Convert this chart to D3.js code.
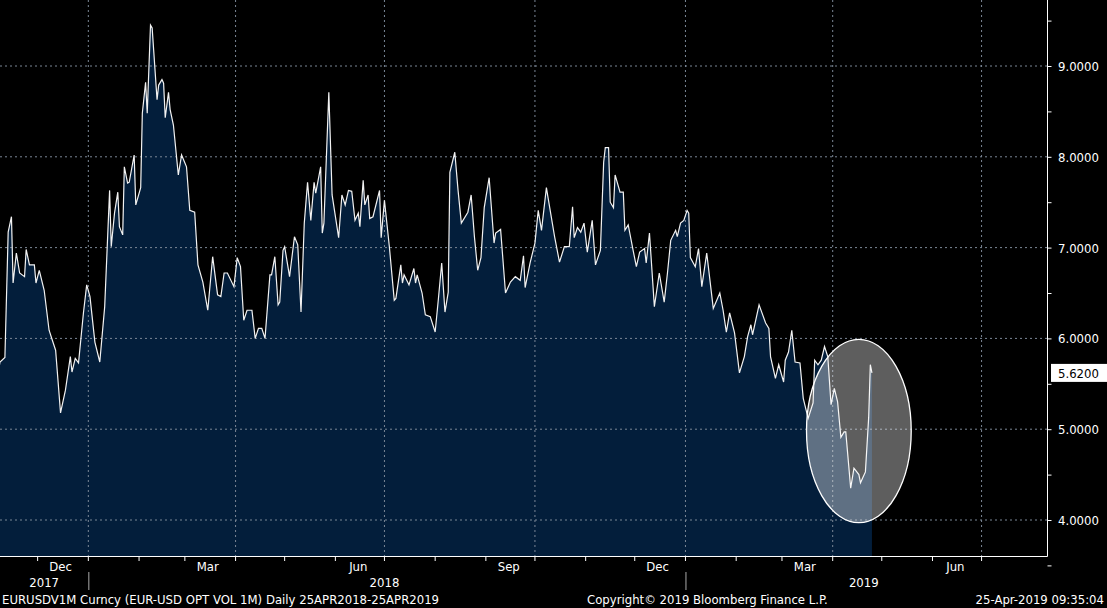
<!DOCTYPE html>
<html>
<head>
<meta charset="utf-8">
<script src="https://cdn.jsdelivr.net/npm/d3@7"></script>
<style>
body { margin:0; background:#000; }
svg text { font-family: "Liberation Sans Narrow", "DejaVu Sans Condensed", "Roboto", sans-serif; fill:#fff; }
</style>
</head>
<body>
<svg id="chart" width="1107" height="608"></svg>
<script>
let w = 1107, h = 608;

// day offsets from 6 Nov 2017
let dayOffsets = [0,2,5,7,9,10,12,14,17,18,20,23,24,26,29,32,34,36,39,42,45,46,48,50,53,55,57,60,63,66,69,70,72,74,75,77,78,80,81,84,85,88,89,91,92,94,95,98,99,101,102,103,105,106,108,111,113,116,118,121,123,126,129,132,135,137,139,141,145,147,149,151,153,156,158,160,162,164,167,168,170,172,173,175,176,179,182,184,186,188,190,192,194,195,198,199,200,203,205,209,211,213,215,217,219,221,222,224,225,227,228,230,234,235,237,240,243,244,247,248,249,252,255,256,
	257,260,262,265,268,270,272,274,276,277,280,282,284,288,290,292,294,296,298,301,304,305,308,311,314,317,320,322,323,326,329,331,333,336,337,341,344,347,350,352,353,355,357,359,361,364,366,369,371,372,374,375,377,378,381,383,384,386,389,391,393,396,397,399,402,405,408,410,412,415,416,418,420,422,423,424,427,429,431,434,438,442,444,446,448,451,454,457,459,461,462,466,470,472,473,476,478,481,482,484,486,488,491,493,496,499,500,502,504,506,508,510,512,514,516,518,519,522,524,527,528,531,533,534,535];
let vols = [5.54,5.74,5.79,7.17,7.34,6.61,6.94,6.72,6.68,6.98,6.81,6.81,6.61,6.75,6.53,6.09,5.98,5.87,5.18,5.43,5.80,5.63,5.78,5.73,6.28,6.59,6.46,5.96,5.74,6.35,7.63,7.01,7.38,7.61,7.23,7.14,7.89,7.71,7.72,8.02,7.47,7.66,8.48,8.82,8.48,9.45,9.42,8.63,8.79,8.85,8.81,8.43,8.71,8.52,8.35,7.80,8.02,7.89,7.41,7.39,6.81,6.62,6.31,6.90,6.48,6.46,6.72,6.72,6.57,6.89,6.79,6.20,6.31,6.31,6.00,6.11,6.11,6.00,6.70,6.70,6.90,6.37,6.40,6.97,7.01,6.68,7.12,7.03,6.29,7.27,7.72,7.30,7.72,7.60,7.89,7.16,7.27,8.71,7.58,7.11,7.58,7.47,7.63,7.62,7.30,7.38,7.23,7.74,7.47,7.58,7.32,7.34,7.63,7.11,7.52,7.01,6.42,6.44,6.81,6.61,6.70,6.59,6.77,6.61,
	6.70,6.50,6.26,6.24,6.07,6.44,6.83,6.29,6.51,7.83,8.05,7.63,7.27,7.39,7.58,7.12,6.75,6.89,7.44,7.77,7.05,7.16,7.20,6.50,6.62,6.68,6.64,6.91,6.56,6.83,7.05,7.41,7.19,7.66,7.55,7.12,6.84,7.01,7.01,7.45,7.11,7.22,7.17,7.27,6.95,7.30,6.81,6.97,7.94,8.10,8.10,7.50,7.44,7.80,7.61,7.61,7.19,7.25,6.97,6.79,6.95,6.99,6.83,7.16,6.35,6.72,6.40,6.72,7.08,7.19,7.12,7.27,7.30,7.41,7.38,6.89,6.79,6.99,6.57,6.94,6.33,6.50,6.31,6.07,6.28,6.06,5.62,5.80,6.02,6.15,6.04,6.37,6.17,6.11,5.80,5.56,5.71,5.52,5.76,5.85,6.09,5.74,5.73,5.34,5.12,5.29,5.76,5.71,5.76,5.91,5.80,5.27,5.45,5.30,4.91,4.97,4.97,4.35,4.57,4.50,4.41,4.53,5.13,5.71,5.62];

let yTicks = [4, 5, 6, 7, 8, 9];
let monthLabels = [["2017-12-01","Dec"],["2018-03-01","Mar"],["2018-06-01","Jun"],["2018-09-01","Sep"],["2018-12-01","Dec"],["2019-03-01","Mar"],["2019-06-01","Jun"]];
let yearLabels = [["2017-12-05","2017"],["2018-07-01","2018"],["2019-04-20","2019"]];
let lastValue = 5.62;

let start = new Date(2017, 10, 6);
let data = dayOffsets.map((d, i) => ({date: d3.timeDay.offset(start, d), v: vols[i]}));

let plotW = 1047, plotH = 556;
let x = d3.scaleTime().domain([new Date(2017, 10, 8), new Date(2019, 7, 10)]).range([0, plotW]);
let y = d3.scaleLinear().domain([4, 9]).range([520, 66]);

let svg = d3.select("#chart");
svg.append("rect").attr("width", w).attr("height", h).attr("fill", "#000");

// area + line
svg.append("path").datum(data)
	.attr("fill", "#031e3b")
	.attr("d", d3.area().x(d => x(d.date)).y0(plotH).y1(d => y(d.v)));

// grid
let quarters = d3.timeMonth.every(3).range(new Date(2018, 0, 1), new Date(2019, 7, 1));
svg.append("g").selectAll("line").data(quarters).join("line")
	.attr("x1", d => x(d)).attr("x2", d => x(d)).attr("y1", 0).attr("y2", plotH)
	.attr("stroke", "#7b8796").attr("stroke-dasharray", "2,3").attr("stroke-width", 1);
svg.append("g").selectAll("line").data(yTicks).join("line")
	.attr("x1", 0).attr("x2", plotW).attr("y1", d => y(d)).attr("y2", d => y(d))
	.attr("stroke", "#7b8796").attr("stroke-dasharray", "2,3").attr("stroke-width", 1);

svg.append("path").datum(data)
	.attr("fill", "none").attr("stroke", "#f2f2f2").attr("stroke-width", 1.2)
	.attr("d", d3.line().x(d => x(d.date)).y(d => y(d.v)));

// highlight ellipse
let cDate = new Date(2019, 3, 17);
svg.append("ellipse")
	.attr("cx", x(cDate)).attr("cy", y(4.98))
	.attr("rx", x(d3.timeDay.offset(cDate, 32)) - x(cDate))
	.attr("ry", y(4) - y(5.01))
	.attr("fill", "#fff").attr("fill-opacity", 0.37)
	.attr("stroke", "#fff").attr("stroke-width", 1.3);

// axes frame
svg.append("line").attr("x1", plotW + 0.5).attr("x2", plotW + 0.5).attr("y1", 0).attr("y2", plotH + 0.5).attr("stroke", "#fff");
svg.append("line").attr("x1", 0).attr("x2", plotW + 0.5).attr("y1", plotH + 0.5).attr("y2", plotH + 0.5).attr("stroke", "#fff");

// right axis
let ya = d3.axisRight(y).tickValues(d3.range(3.5, 10, 0.5)).tickSize(4).tickFormat("");
svg.append("g").attr("transform", `translate(${plotW + 0.5},0)`).call(ya)
	.call(g => g.select(".domain").remove())
	.call(g => g.selectAll("line").attr("stroke", "#fff"));
svg.append("g").selectAll("text").data(yTicks).join("text")
	.attr("x", 1058).attr("y", d => y(d) + 5).attr("font-size", 13).text(d => d.toFixed(4));

// last value tag
svg.append("rect").attr("x", plotW + 4).attr("y", y(lastValue) - 9).attr("width", 56).attr("height", 18).attr("fill", "#fff");
svg.append("text").attr("x", 1058).attr("y", y(lastValue) + 5).attr("font-size", 13).style("fill", "#000").text(lastValue.toFixed(4));

// bottom ticks
let months = d3.timeMonth.range(new Date(2017, 11, 1), new Date(2019, 7, 1));
svg.append("g").selectAll("line").data(months).join("line")
	.attr("x1", d => x(d)).attr("x2", d => x(d)).attr("y1", plotH).attr("y2", plotH + 5).attr("stroke", "#fff");
svg.append("g").selectAll("text").data(monthLabels).join("text")
	.attr("x", d => x(d3.timeDay.offset(new Date(d[0]), 14))).attr("y", 571)
	.attr("text-anchor", "middle").attr("font-size", 13).text(d => d[1]);
svg.append("g").selectAll("line").data([new Date(2018, 0, 1), new Date(2019, 0, 1)]).join("line")
	.attr("x1", d => x(d) + 0.5).attr("x2", d => x(d) + 0.5).attr("y1", 572).attr("y2", 590).attr("stroke", "#aaa");
svg.append("g").selectAll("text").data(yearLabels).join("text")
	.attr("x", d => x(new Date(d[0]))).attr("y", 587)
	.attr("text-anchor", "middle").attr("font-size", 13).text(d => d[1]);

// footer
svg.append("text").attr("x", 2).attr("y", 604).attr("font-size", 13).text("EURUSDV1M Curncy (EUR-USD OPT VOL 1M)  Daily 25APR2018-25APR2019");
svg.append("text").attr("x", 587).attr("y", 604).attr("font-size", 13).text("Copyright\u00A9 2019 Bloomberg Finance L.P.");
svg.append("text").attr("x", 1104).attr("y", 604).attr("text-anchor", "end").attr("font-size", 13).text("25-Apr-2019 09:35:04");
</script>
</body>
</html>
